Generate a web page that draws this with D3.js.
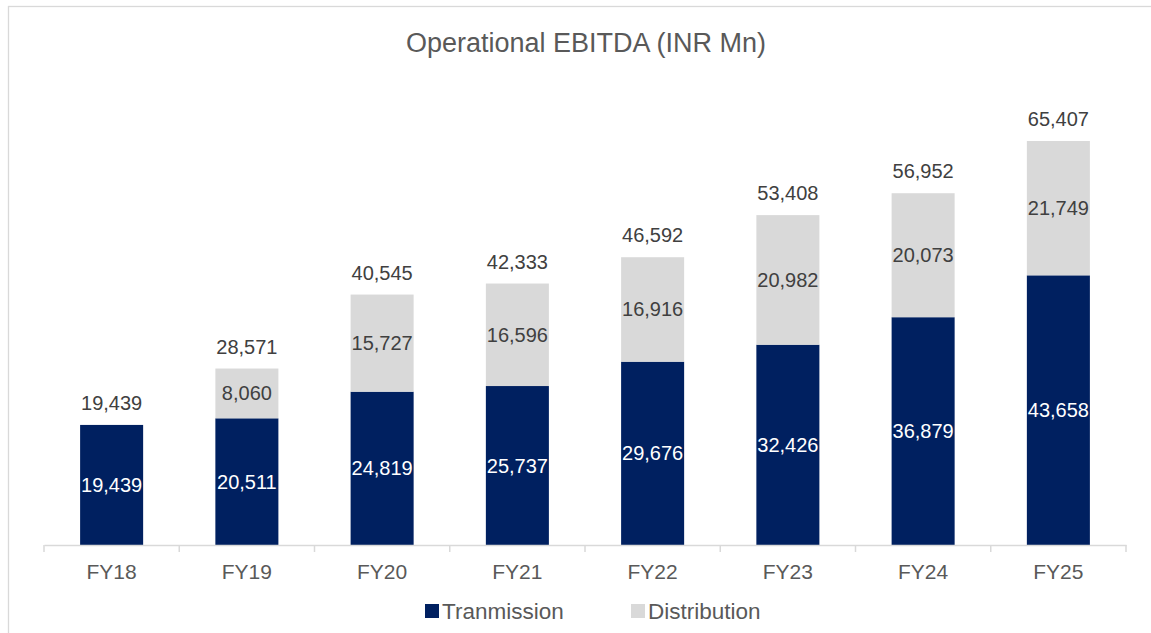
<!DOCTYPE html>
<html>
<head>
<meta charset="utf-8">
<script src="https://cdn.jsdelivr.net/npm/d3@7"></script>
<style>
  body { margin: 0; background: #fff; }
  svg { display: block; font-family: "Liberation Sans", Arial, sans-serif; }
</style>
</head>
<body>
<svg id="chart" width="1151" height="633"></svg>
<script>
const years = ["FY18","FY19","FY20","FY21","FY22","FY23","FY24","FY25"]
const transmission = [19439,20511,24819,25737,29676,32426,36879,43658]
const distribution = [0,8060,15727,16596,16916,20982,20073,21749]
const totals = [19439,28571,40545,42333,46592,53408,56952,65407]
const seriesNames = ["Tranmission","Distribution"]
const colors = ["#002060","#d9d9d9"]

const fmt = d3.format(",")
const svg = d3.select("#chart")

// frame (right/bottom edges fall outside the picture)
svg.append("rect")
  .attr("x", 8.5).attr("y", 6.5)
  .attr("width", 1160).attr("height", 640)
  .attr("fill", "none").attr("stroke", "#d9d9d9").attr("stroke-width", 1.3)

let x = d3.scaleBand()
  .domain(years)
  .range([44, 1126])
  .paddingInner(0.534).paddingOuter(0.267)

let y = d3.scaleLinear()
  .domain([0, 70000])
  .range([545, 545 - 70000 * 404 / 65407])

// stacked data
let rows = years.map((yr, i) => ({year: yr, Tranmission: transmission[i], Distribution: distribution[i]}))
let stack = d3.stack().keys(seriesNames)(rows)

let layers = svg.selectAll("g.layer")
  .data(stack)
  .enter().append("g")
  .attr("class", "layer")
  .attr("fill", (d, i) => colors[i])

layers.selectAll("rect")
  .data(d => d.filter(s => s[1] - s[0] > 0))
  .enter().append("rect")
  .attr("x", d => x(d.data.year))
  .attr("width", x.bandwidth())
  .attr("y", d => y(d[1]))
  .attr("height", d => y(d[0]) - y(d[1]))

// labels inside segments
stack.forEach((layer, li) => {
  svg.append("g").selectAll("text")
    .data(layer.filter(s => s[1] - s[0] > 0))
    .enter().append("text")
    .attr("x", d => x(d.data.year) + x.bandwidth() / 2)
    .attr("y", d => (y(d[0]) + y(d[1])) / 2)
    .attr("dy", "0.35em")
    .attr("text-anchor", "middle")
    .style("font-size", "20px")
    .style("fill", li == 0 ? "#ffffff" : "#404040")
    .text(d => fmt(d[1] - d[0]))
})

// totals above bars
svg.append("g").selectAll("text")
  .data(years)
  .enter().append("text")
  .attr("x", d => x(d) + x.bandwidth() / 2)
  .attr("y", (d, i) => y(totals[i]) - 15)
  .attr("text-anchor", "middle")
  .style("font-size", "20px")
  .style("fill", "#404040")
  .text((d, i) => fmt(totals[i]))

// x axis
let xAxis = d3.axisBottom(x).tickSize(0).tickPadding(19)
let ax = svg.append("g")
  .attr("transform", "translate(0,545)")
  .call(xAxis)
ax.select(".domain").attr("stroke", "#d9d9d9").attr("stroke-width", 1.5)
ax.selectAll("text")
  .style("font-size", "21px")
  .style("fill", "#595959")
  .style("font-family", "'Liberation Sans', Arial, sans-serif")
// category separators
let edges = years.map(d => x(d) - x.step() * x.paddingInner() / 2)
edges.push(1126)
ax.selectAll("line.sep")
  .data(edges)
  .enter().append("line")
  .attr("class", "sep")
  .attr("x1", d => d).attr("x2", d => d)
  .attr("y1", 0).attr("y2", 7)
  .attr("stroke", "#d9d9d9").attr("stroke-width", 1.5)

// title
svg.append("text")
  .attr("x", 586).attr("y", 51.5)
  .attr("text-anchor", "middle")
  .style("font-size", "27px")
  .style("fill", "#595959")
  .text("Operational EBITDA (INR Mn)")

// legend
let legX = [425, 631]
seriesNames.forEach((name, i) => {
  svg.append("rect")
    .attr("x", legX[i]).attr("y", 604)
    .attr("width", 14).attr("height", 14)
    .attr("fill", colors[i])
  svg.append("text")
    .attr("x", legX[i] + 17).attr("y", 619)
    .style("font-size", "22.5px")
    .style("fill", "#595959")
    .text(name)
})
</script>
</body>
</html>
